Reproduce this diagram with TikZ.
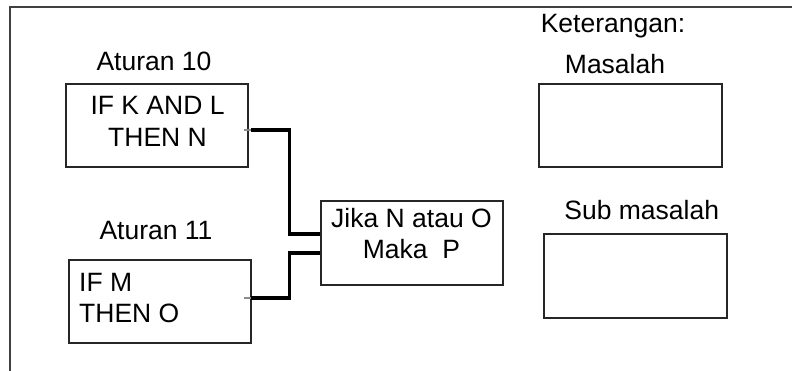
\documentclass[tikz,border=0pt]{standalone}
\usepackage{fontspec}
\setmainfont{Liberation Sans}
\usetikzlibrary{calc}
\begin{document}
\begin{tikzpicture}[x=1pt,y=-1pt,
  txt/.style={inner sep=0pt,anchor=base,font=\fontsize{26.5}{30}\selectfont},
  ltxt/.style={txt,anchor=base west},
  box/.style={draw=black!85,line width=1.3pt,minimum width=182pt,minimum height=83pt,inner sep=0pt},
  wire/.style={line width=3.6pt,black,line join=miter},
  stub/.style={line width=2.4pt,black!45},
  frame/.style={line width=1.4pt,black!75}]
\useasboundingbox (0,0) rectangle (792,371);
\draw[frame] (792,7) -- (10,7) -- (10,371);
% boxes
\node[box] (b10) at (157,125.5) {};
\node[box] (b11) at (160,301.5) {};
\node[box,minimum height=84pt] (jk) at (412,243) {};
\node[box,minimum width=183pt] (mas) at (630.5,125.5) {};
\node[box,minimum width=183pt,minimum height=84pt] (sub) at (635.5,276) {};
% labels
\node[txt] (l10) at (154,71) {Aturan 10};
\node[txt] (l11) at (156,239.3) {Aturan 11};
\node[txt] (t10a) at (157.5,115) {IF K AND L};
\node[txt] (t10b) at (157.5,146.7) {THEN N};
\node[ltxt] (t11a) at (79,291) {IF M};
\node[ltxt] (t11b) at (79,322.7) {THEN O};
\node[txt] (jka) at (411.5,227.7) {Jika N atau O};
\node[txt] (jkb) at (411.5,259) {Maka\ \ P};
\node[txt] (ket) at (613,32.3) {Keterangan:};
\node[txt] (lmas) at (615,73.3) {Masalah};
\node[txt] (lsub) at (641.7,220) {Sub masalah};
% connectors
\coordinate (s1) at ($(b10.east)+(-5,4.5)$);
\coordinate (s2) at ($(b11.east)+(-8,-3.5)$);
\draw[stub] (s1) -- ++(7,0) coordinate (e1);
\draw[stub] (s2) -- ++(7,0) coordinate (e2);
\draw[wire] (e1) -- ($(e1)+(39,0)$) |- ($(jk.west)+(0,-9)$);
\draw[wire] (e2) -- ($(e2)+(39,0)$) |- ($(jk.west)+(0,10)$);
\end{tikzpicture}
\end{document}
